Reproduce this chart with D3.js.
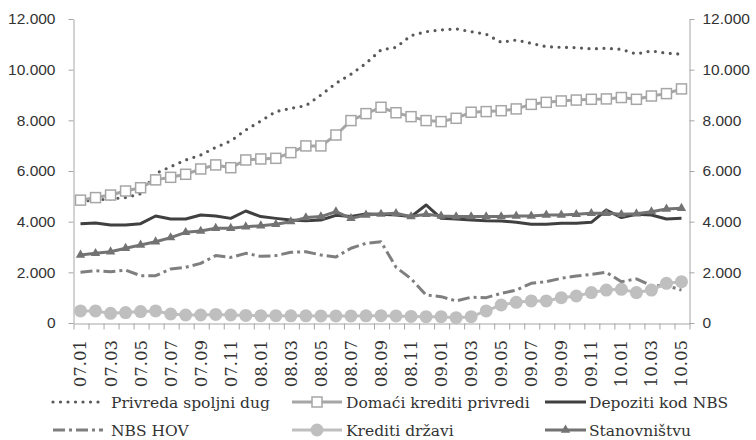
<!DOCTYPE html>
<html>
<head>
<meta charset="utf-8">
<script src="https://cdnjs.cloudflare.com/ajax/libs/d3/7.8.5/d3.min.js"></script>
<style>
  body { margin: 0; background: #fff; }
  svg { display: block; }
  .yax text { font-family: "Liberation Sans", Arial, sans-serif; font-size: 15.5px; fill: #333; }
  .xax text { font-family: "DejaVu Serif", "Liberation Serif", serif; font-size: 16.5px; fill: #333; }
  .leg text { font-family: "DejaVu Serif", "Liberation Serif", serif; font-size: 15.5px; fill: #333; }
  .axis path, .axis line { stroke: #a6a6a6; }
</style>
</head>
<body>
<div id="chart"></div>
<script>
// Months, 2007.01 - 2010.05
const months = [
  "07.01","07.02","07.03","07.04","07.05","07.06","07.07","07.08","07.09","07.10","07.11","07.12",
  "08.01","08.02","08.03","08.04","08.05","08.06","08.07","08.08","08.09","08.10","08.11","08.12",
  "09.01","09.02","09.03","09.04","09.05","09.06","09.07","09.08","09.09","09.10","09.11","09.12",
  "10.01","10.02","10.03","10.04","10.05"
];
const yTicks = [0, 2000, 4000, 6000, 8000, 10000, 12000];

// Series values
const privredaDug = [4800, 4850, 4900, 4950, 5100, 5900, 6170, 6435, 6630, 6935, 7185,
  7620, 7975, 8345, 8475, 8580, 9000, 9460, 9820, 10250, 10780,
  10880, 11345, 11500, 11570, 11610, 11500, 11400, 11080, 11170, 11040,
  10910, 10880, 10870, 10820, 10845, 10800, 10620, 10740, 10650, 10610];
const domaciKrediti = [4850, 4950, 5050, 5210, 5340, 5650, 5750, 5870, 6080, 6240, 6130,
  6435, 6475, 6500, 6725, 6990, 6990, 7420, 7990, 8265, 8515,
  8300, 8145, 7990, 7950, 8080, 8320, 8345, 8380, 8450, 8630,
  8710, 8765, 8800, 8830, 8845, 8900, 8830, 8960, 9055, 9240];
const depoziti = [3920, 3950, 3870, 3870, 3920, 4225, 4105, 4105, 4265, 4225, 4130,
  4420, 4200, 4130, 4065, 4040, 4065, 4250, 4200, 4300, 4290,
  4265, 4200, 4660, 4130, 4105, 4065, 4040, 4030, 3975, 3895,
  3895, 3935, 3935, 3975, 4460, 4160, 4290, 4265, 4105, 4130];
const nbsHov = [2000, 2065, 2025, 2090, 1870, 1870, 2130, 2200, 2355, 2660, 2590,
  2750, 2630, 2660, 2790, 2815, 2685, 2605, 2950, 3145, 3210,
  2200, 1750, 1105, 1040, 870, 1015, 1000, 1170, 1300, 1565,
  1630, 1765, 1855, 1920, 2000, 1630, 1740, 1475, 1475, 1300];
const kreditiDrzavi = [475, 475, 380, 410, 450, 475, 355, 315, 315, 340, 315,
  300, 290, 290, 285, 285, 280, 280, 280, 285, 290,
  280, 260, 250, 250, 210, 250, 475, 710, 815, 870,
  870, 1000, 1065, 1200, 1300, 1330, 1200, 1300, 1565, 1630];
const stanovnistvu = [2685, 2750, 2815, 2950, 3080, 3210, 3370, 3580, 3630, 3740, 3740,
  3800, 3840, 3895, 4000, 4160, 4200, 4395, 4130, 4265, 4300,
  4330, 4200, 4290, 4225, 4200, 4200, 4200, 4200, 4225, 4225,
  4265, 4265, 4290, 4330, 4330, 4290, 4315, 4395, 4500, 4530];

// Series styles, in drawing order
const series = [
  { name: "Privreda spoljni dug", values: privredaDug, color: "#595959", width: 3.2, dash: "0,7.5", cap: "round", marker: null },
  { name: "Domaći krediti privredi", values: domaciKrediti, color: "#a6a6a6", width: 3, dash: null, cap: "butt", marker: "square" },
  { name: "Depoziti kod NBS", values: depoziti, color: "#404040", width: 3, dash: null, cap: "butt", marker: null },
  { name: "NBS HOV", values: nbsHov, color: "#7f7f7f", width: 3, dash: "12,4,3,4", cap: "butt", marker: null },
  { name: "Krediti državi", values: kreditiDrzavi, color: "#bfbfbf", width: 3, dash: null, cap: "butt", marker: "circle" },
  { name: "Stanovništvu", values: stanovnistvu, color: "#737373", width: 3, dash: null, cap: "butt", marker: "triangle" }
];

const W = 756, H = 440;
const plot = { left: 73, right: 689, top: 19, bottom: 323 };

const svg = d3.select("#chart").append("svg")
  .attr("width", W)
  .attr("height", H);

const x = d3.scaleBand().domain(months).range([plot.left, plot.right]).padding(0);
const y = d3.scaleLinear().domain([0, 12000]).range([plot.bottom, plot.top]);
const xc = d => x(d) + x.bandwidth() / 2;

const fmt = d3.formatLocale({ decimal: ",", thousands: ".", grouping: [3], currency: ["", ""] }).format(",");

// Axes
svg.append("g")
  .attr("class", "axis yax")
  .attr("transform", `translate(${plot.left + 0.5},0)`)
  .call(d3.axisLeft(y).tickValues(yTicks).tickSize(5).tickSizeOuter(0).tickPadding(13).tickFormat(fmt));

svg.append("g")
  .attr("class", "axis yax")
  .attr("transform", `translate(${plot.right + 0.5},0)`)
  .call(d3.axisRight(y).tickValues(yTicks).tickSize(5).tickSizeOuter(0).tickPadding(8).tickFormat(fmt));

// Tick marks on category edges
const xEdge = d3.scaleLinear().domain([0, months.length]).range([plot.left, plot.right]);
svg.append("g")
  .attr("class", "axis")
  .attr("transform", `translate(0.5,${plot.bottom + 0.5})`)
  .call(d3.axisBottom(xEdge).tickValues(d3.range(months.length + 1)).tickSize(6).tickSizeOuter(0).tickFormat(""));

// Month labels (every second one)
const xLab = svg.append("g")
  .attr("class", "axis xax")
  .attr("transform", `translate(0,${plot.bottom})`)
  .call(d3.axisBottom(x).tickSize(0).tickFormat((d, i) => i % 2 === 0 ? d : ""));
xLab.select(".domain").remove();
xLab.selectAll("text")
  .attr("transform", "rotate(-90)")
  .attr("text-anchor", "end")
  .attr("x", -17)
  .attr("y", 0)
  .attr("dy", "0.36em");

// Lines
const line = d3.line().x((d, i) => xc(months[i])).y(d => y(d));

function drawMarker(g, type, color) {
  if (type === "square") {
    g.append("rect").attr("x", -5).attr("y", -5).attr("width", 10).attr("height", 10)
      .attr("fill", "#fff").attr("stroke", color).attr("stroke-width", 1.5);
  } else if (type === "circle") {
    g.append("circle").attr("r", 6.5).attr("fill", color);
  } else if (type === "triangle") {
    g.append("path").attr("d", d3.symbol(d3.symbolTriangle, 38)()).attr("fill", color);
  }
}

series.forEach(s => {
  svg.append("path")
    .datum(s.values)
    .attr("fill", "none")
    .attr("stroke", s.color)
    .attr("stroke-width", s.width)
    .attr("stroke-dasharray", s.dash)
    .attr("stroke-linecap", s.cap)
    .attr("stroke-linejoin", "round")
    .attr("d", line);
  if (s.marker) {
    svg.append("g").selectAll("g")
      .data(s.values)
      .join("g")
      .attr("transform", (d, i) => `translate(${xc(months[i])},${y(d)})`)
      .each(function () { drawMarker(d3.select(this), s.marker, s.color); });
  }
});

// Legend
const legCols = [{ x0: 53, x1: 103, tx: 111 }, { x0: 292, x1: 342, tx: 346 }, { x0: 545, x1: 586, tx: 589 }];
const legRows = [402, 430];
const leg = svg.append("g").attr("class", "leg");
series.forEach((s, i) => {
  const c = legCols[i % 3], r = legRows[Math.floor(i / 3)];
  const g = leg.append("g");
  g.append("line")
    .attr("x1", c.x0).attr("x2", c.x1).attr("y1", r).attr("y2", r)
    .attr("stroke", s.color).attr("stroke-width", s.width)
    .attr("stroke-dasharray", s.dash).attr("stroke-linecap", s.cap);
  if (s.marker) {
    const m = g.append("g").attr("transform", `translate(${(c.x0 + c.x1) / 2},${r})`);
    drawMarker(m, s.marker, s.color);
  }
  g.append("text")
    .attr("x", c.tx).attr("y", r)
    .attr("dy", "0.36em")
    .text(s.name);
});
</script>
</body>
</html>
